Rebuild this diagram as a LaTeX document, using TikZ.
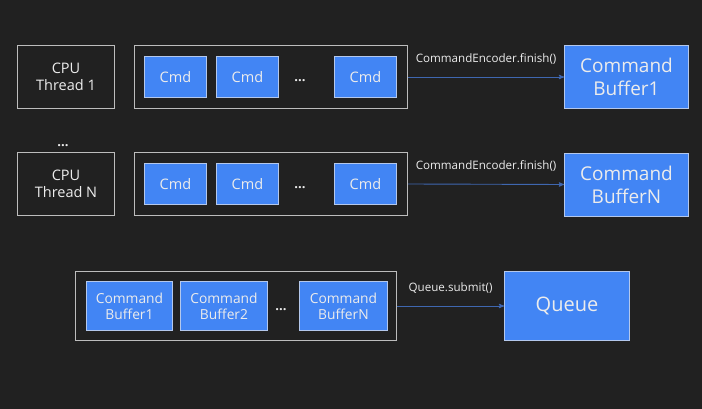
\documentclass[tikz,border=0pt]{standalone}
\usepackage{fontspec}
\setmainfont{Open Sans}
\usepackage{tikz}
\usetikzlibrary{arrows}
\definecolor{bg}{HTML}{212121}
\definecolor{edge}{HTML}{BDBDBD}
\definecolor{gblue}{HTML}{4285F4}
\definecolor{bedge}{HTML}{B4C8EC}
\definecolor{txt}{HTML}{ECECEC}
\definecolor{wire}{HTML}{3F67B0}
\tikzset{
 box/.style = {align=center, inner sep=0pt, text centered, text=txt},
  cpu_n/.style = {box, rectangle, draw=edge, line width=1.2pt,
    minimum width=97pt, minimum height=63pt, font=\fontsize{14.5}{17}\selectfont},% thread
  grp_n/.style = {box, rectangle, draw=edge, line width=1.2pt},% container
  cmd_n/.style = {box, rectangle, fill=gblue, draw=bedge, line width=0.8pt,
    minimum width=62pt, minimum height=41pt, font=\fontsize{14.5}{17}\selectfont},
  buf_n/.style = {box, rectangle, fill=gblue, draw=bedge, line width=0.8pt,
    minimum width=124pt, minimum height=63pt, font=\fontsize{19}{23}\selectfont},
  sub_n/.style = {box, rectangle, fill=gblue, draw=bedge, line width=0.8pt,
    minimum height=49pt, font=\fontsize{13.8}{16}\selectfont},
  dots/.style = {box, font=\fontsize{13}{15}\selectfont\bfseries},
  lbl/.style = {box, font=\fontsize{11.6}{13}\selectfont}
}
\begin{document}
\begin{tikzpicture}[x=1pt,y=-1pt,>=stealth']
  \fill[bg] (0,0) rectangle (702,409);
  \useasboundingbox (0,0) rectangle (702,409);
  % first thread
  \node [cpu_n] (cpu1) at (66,77) {CPU\\Thread 1};
  \node [grp_n, minimum width=273pt, minimum height=63pt] (enc1) at (271,77) {};
  \node [cmd_n] (c11) at (175.5,77) {Cmd};
  \node [cmd_n] (c12) at (247.5,77) {Cmd};
  \node [dots] (d1) at (300,81) {...};
  \node [cmd_n] (c13) at (365.5,77) {Cmd};
  \node [buf_n] (buf1) at (626.5,77) {Command\\Buffer1};
  \draw [->, wire, line width=0.9pt] (enc1.east) -- (buf1.west)
    node [lbl, midway, above=12pt] {CommandEncoder.finish()};
  \node [dots] (dmid) at (63,146) {...};
  % last thread
  \node [cpu_n] (cpuN) at (66,184) {CPU\\Thread N};
  \node [grp_n, minimum width=273pt, minimum height=63pt] (encN) at (271,184) {};
  \node [cmd_n] (cN1) at (175.5,184) {Cmd};
  \node [cmd_n] (cN2) at (247.5,184) {Cmd};
  \node [dots] (dN) at (300,188) {...};
  \node [cmd_n] (cN3) at (365.5,184) {Cmd};
  \node [buf_n] (bufN) at (626.5,184.5) {Command\\BufferN};
  \draw [->, wire, line width=0.9pt] (encN.east) -- (bufN.west)
    node [lbl, midway, above=12pt] {CommandEncoder.finish()};
  % submit
  \node [grp_n, minimum width=321pt, minimum height=69pt] (subs) at (236,306) {};
  \node [sub_n, minimum width=86pt] (s1) at (129.5,306) {Command\\Buffer1};
  \node [sub_n, minimum width=87pt] (s2) at (224,306) {Command\\Buffer2};
  \node [dots] (ds) at (281,310) {...};
  \node [sub_n, minimum width=88pt] (s3) at (343.5,306) {Command\\BufferN};
  \node [buf_n, minimum width=125pt, minimum height=69pt,
    font=\fontsize{20}{23}\selectfont] (queue) at (567,306) {Queue};
  \draw [->, wire, line width=0.9pt] (subs.east) -- (queue.west)
    node [lbl, midway, above=12pt] {Queue.submit()};
\end{tikzpicture}
\end{document}
